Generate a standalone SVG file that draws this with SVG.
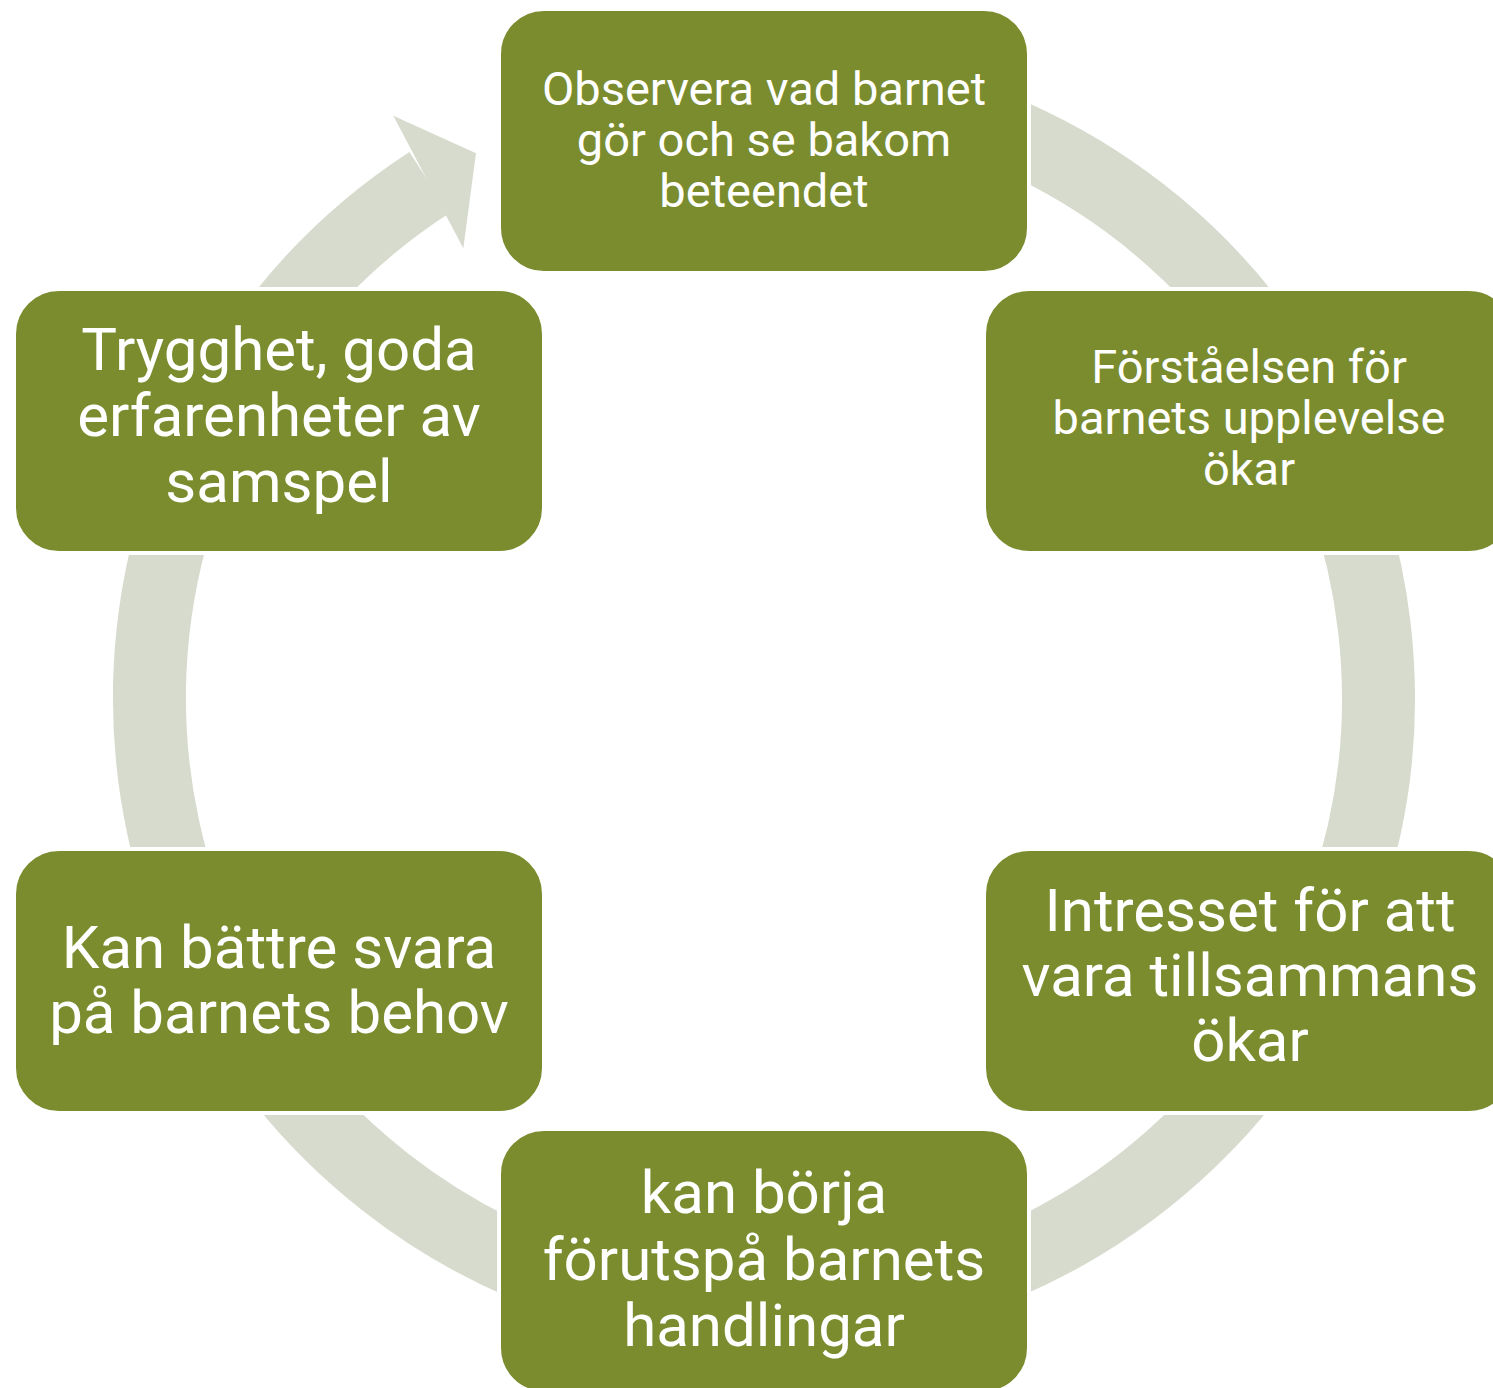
<svg xmlns="http://www.w3.org/2000/svg" width="1493" height="1388" viewBox="0 0 1493 1388">
<style>
.box{fill:#7a8c2e;stroke:#ffffff;stroke-width:4}
.t{fill:#ffffff;font-family:Roboto,"Liberation Sans",sans-serif;text-anchor:middle}
.s{font-size:47px}
.l{font-size:60px}
.ring{fill:none;stroke:#d7dbcd;stroke-width:73}
</style>
<rect width="1493" height="1388" fill="#ffffff"/>
<g id="connectors">
<path class="ring" d="M 764 83.5 A 614.5 614.5 0 1 1 429.3 182.6"/>
<polygon points="393.3,115.7 476,153.3 463.3,248.3" fill="#d7dbcd"/>
</g>
<g id="node-top">
<rect class="box" x="499" y="9" width="530" height="264" rx="45"/>
<text class="t s"><tspan x="764" y="105">Observera vad barnet</tspan><tspan x="764" y="156">gör och se bakom</tspan><tspan x="764" y="207">beteendet</tspan></text>
</g>
<g id="node-right-top">
<rect class="box" x="984" y="289" width="530" height="264" rx="45"/>
<text class="t s"><tspan x="1249" y="383">Förståelsen för</tspan><tspan x="1249" y="434">barnets upplevelse</tspan><tspan x="1249" y="485">ökar</tspan></text>
</g>
<g id="node-right-bottom">
<rect class="box" x="984" y="849" width="530" height="264" rx="45"/>
<text class="t l"><tspan x="1250" y="931">Intresset för att</tspan><tspan x="1250" y="996">vara tillsammans</tspan><tspan x="1250" y="1061">ökar</tspan></text>
</g>
<g id="node-bottom">
<rect class="box" x="499" y="1129" width="530" height="264" rx="45"/>
<text class="t l"><tspan x="764" y="1213">kan börja</tspan><tspan x="764" y="1280">förutspå barnets</tspan><tspan x="764" y="1346">handlingar</tspan></text>
</g>
<g id="node-left-bottom">
<rect class="box" x="14" y="849" width="530" height="264" rx="45"/>
<text class="t l"><tspan x="279" y="968">Kan bättre svara</tspan><tspan x="279" y="1033">på barnets behov</tspan></text>
</g>
<g id="node-left-top">
<rect class="box" x="14" y="289" width="530" height="264" rx="45"/>
<text class="t l"><tspan x="279" y="370">Trygghet, goda</tspan><tspan x="279" y="436">erfarenheter av</tspan><tspan x="279" y="502">samspel</tspan></text>
</g>
</svg>
